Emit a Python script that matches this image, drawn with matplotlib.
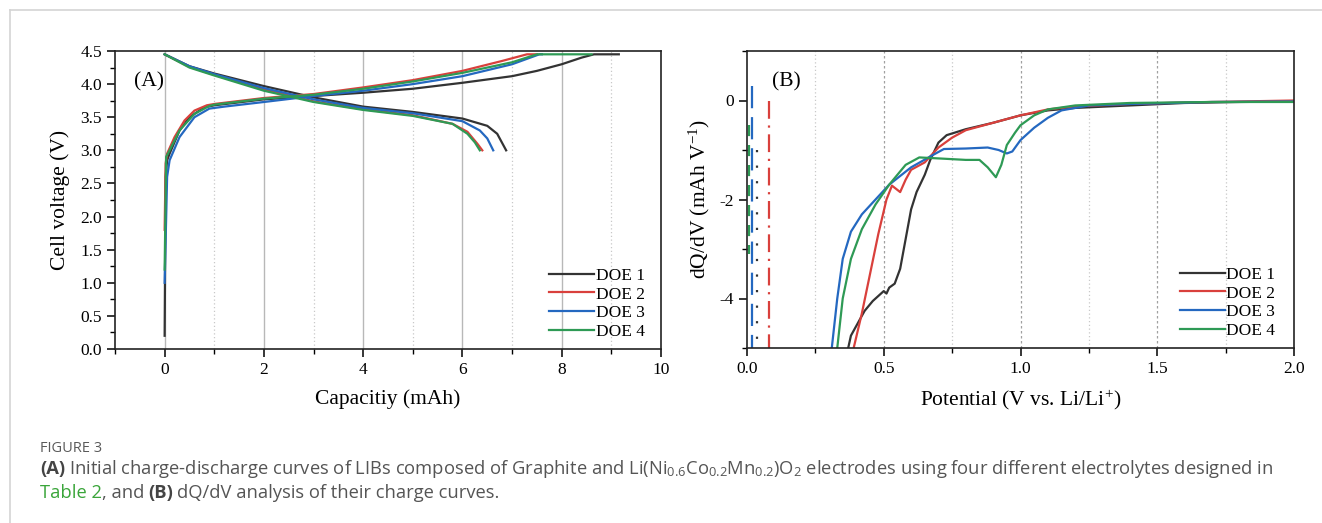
import numpy as np
import matplotlib
matplotlib.use("Agg")
import matplotlib.pyplot as plt
from matplotlib.ticker import MultipleLocator

plt.rcParams['font.family'] = ['Liberation Serif', 'DejaVu Serif']
plt.rcParams['mathtext.fontset'] = 'custom'
plt.rcParams['mathtext.rm'] = 'Liberation Serif'
plt.rcParams['mathtext.it'] = 'Liberation Serif:italic'
plt.rcParams['mathtext.sf'] = 'Open Sans'

labels = ["DOE 1", "DOE 2", "DOE 3", "DOE 4"]
colors = ["#333333", "#d9403c", "#2468c0", "#2e9a55"]

# (A) charge curves: capacity (mAh), voltage (V)
chg_x = [
    [0, 0.02, 0.05, 0.1, 0.3, 0.5, 0.8, 1.0, 2, 3, 4, 5, 6, 7, 7.5, 8, 8.4, 8.65, 9.15],
    [0, 0.02, 0.05, 0.2, 0.4, 0.6, 0.85, 1.0, 2, 3, 4, 5, 6, 6.8, 7.3, 7.5],
    [0, 0.05, 0.1, 0.3, 0.6, 0.9, 1.2, 2, 3, 4, 5, 6, 7, 7.55, 7.6],
    [0, 0.03, 0.1, 0.3, 0.6, 0.9, 1.0, 2, 3, 4, 5, 6, 7, 7.5, 8.6],
]
chg_y = [
    [0.2, 2.6, 2.85, 2.95, 3.3, 3.5, 3.65, 3.68, 3.77, 3.82, 3.87, 3.93, 4.02, 4.12, 4.2, 4.3, 4.4, 4.45, 4.45],
    [1.8, 2.8, 2.95, 3.2, 3.45, 3.6, 3.68, 3.7, 3.79, 3.85, 3.95, 4.06, 4.2, 4.35, 4.45, 4.45],
    [1.0, 2.6, 2.85, 3.2, 3.5, 3.63, 3.66, 3.73, 3.82, 3.9, 4.0, 4.12, 4.3, 4.45, 4.45],
    [1.2, 2.9, 3.0, 3.3, 3.55, 3.67, 3.69, 3.78, 3.84, 3.93, 4.04, 4.17, 4.33, 4.45, 4.45],
]
# (A) discharge curves
dis_x = [
    [0, 0.5, 1, 2, 3, 4, 5, 6, 6.5, 6.7, 6.88],
    [0, 0.5, 1, 2, 3, 4, 5, 5.8, 6.1, 6.3, 6.4],
    [0, 0.5, 1, 2, 3, 4, 5, 6, 6.35, 6.5, 6.62],
    [0, 0.5, 1, 2, 3, 4, 5, 5.8, 6.1, 6.25, 6.35],
]
dis_y = [
    [4.45, 4.27, 4.16, 3.97, 3.8, 3.66, 3.58, 3.48, 3.37, 3.25, 3.0],
    [4.45, 4.26, 4.14, 3.92, 3.74, 3.62, 3.53, 3.4, 3.28, 3.1, 3.0],
    [4.45, 4.27, 4.15, 3.94, 3.77, 3.64, 3.56, 3.44, 3.3, 3.18, 3.0],
    [4.45, 4.25, 4.13, 3.9, 3.73, 3.61, 3.52, 3.4, 3.25, 3.12, 3.0],
]

# (B) dQ/dV of charge curves
dq_x = [
    [0.37, 0.38, 0.40, 0.43, 0.46, 0.49, 0.50, 0.51, 0.52, 0.54, 0.56, 0.58, 0.60, 0.62, 0.65, 0.67, 0.70, 0.73, 0.80, 0.90, 1.0, 1.1, 1.2, 1.4, 1.6, 1.8, 2.0],
    [0.39, 0.42, 0.45, 0.48, 0.51, 0.53, 0.56, 0.58, 0.60, 0.65, 0.70, 0.75, 0.80, 0.90, 1.0, 1.1, 1.2, 1.4, 1.6, 1.8, 2.0],
    [0.31, 0.33, 0.35, 0.38, 0.42, 0.47, 0.52, 0.60, 0.68, 0.72, 0.80, 0.88, 0.92, 0.95, 0.97, 1.0, 1.05, 1.1, 1.15, 1.25, 1.4, 1.7, 2.0],
    [0.33, 0.35, 0.38, 0.42, 0.47, 0.52, 0.58, 0.63, 0.70, 0.80, 0.85, 0.88, 0.91, 0.93, 0.95, 0.98, 1.0, 1.05, 1.1, 1.2, 1.4, 1.7, 2.0],
]
dq_y = [
    [-5.0, -4.75, -4.55, -4.25, -4.05, -3.9, -3.85, -3.9, -3.78, -3.7, -3.4, -2.8, -2.2, -1.85, -1.5, -1.2, -0.85, -0.7, -0.58, -0.45, -0.3, -0.2, -0.15, -0.1, -0.05, -0.03, -0.02],
    [-5.0, -4.3, -3.5, -2.7, -2.0, -1.72, -1.85, -1.6, -1.4, -1.25, -0.95, -0.75, -0.6, -0.45, -0.3, -0.18, -0.12, -0.07, -0.04, -0.02, 0.0],
    [-5.0, -4.0, -3.2, -2.65, -2.3, -2.0, -1.7, -1.35, -1.1, -0.98, -0.97, -0.95, -1.0, -1.07, -1.03, -0.8, -0.55, -0.35, -0.2, -0.1, -0.07, -0.03, -0.02],
    [-5.0, -4.0, -3.2, -2.6, -2.1, -1.7, -1.3, -1.15, -1.17, -1.2, -1.2, -1.35, -1.55, -1.3, -0.9, -0.65, -0.5, -0.3, -0.18, -0.1, -0.05, -0.03, -0.03],
]
# broken low-potential traces near 0 V: x, top, bottom
spike_x = [0.035, 0.08, 0.02, 0.008]
spike_top = [-1.0, 0.0, 0.3, -0.5]
spike_bot = [-5.0, -5.0, -5.0, -3.1]
spike_style = [(0, (1, 6)), (0, (8, 3, 1, 3)), (0, (10, 4)), (0, (5, 4))]

fig = plt.figure(figsize=(13.22, 5.23), dpi=100)
W, H = 1322, 523

def px_axes(l, t, r, b):
    return fig.add_axes([l / W, 1 - b / H, (r - l) / W, (b - t) / H])

axA = px_axes(115, 51, 661, 349)
axB = px_axes(747, 51, 1294, 348)

for ax in (axA, axB):
    ax.tick_params(which='major', direction='out', length=6, width=1.1, labelsize=12.5, top=False, right=False)
    ax.tick_params(which='minor', direction='out', length=3.5, width=1.0, top=False, right=False)
    for s in ax.spines.values():
        s.set_linewidth(1.2)
        s.set_color('#222222')

# panel A
for v in [0, 2, 4, 6, 8]:
    axA.axvline(v, color='#b8b8b8', lw=1.0, zorder=0)
for v in [1, 3, 5, 7, 9]:
    axA.axvline(v, color='#c8c8c8', lw=0.9, ls=(0, (1, 2)), zorder=0)
for i in range(4):
    axA.plot(chg_x[i], chg_y[i], color=colors[i], lw=1.6, label=labels[i])
    axA.plot(dis_x[i], dis_y[i], color=colors[i], lw=1.6)
axA.set_xlim(-1, 10)
axA.set_ylim(0, 4.5)
axA.xaxis.set_major_locator(MultipleLocator(2))
axA.xaxis.set_minor_locator(MultipleLocator(1))
axA.yaxis.set_major_locator(MultipleLocator(0.5))
axA.yaxis.set_minor_locator(MultipleLocator(0.25))
axA.set_yticklabels([f"{v:.1f}" for v in axA.get_yticks()])
axA.set_xlabel("Capacitiy (mAh)", fontsize=15.5, labelpad=8)
axA.set_ylabel("Cell voltage (V)", fontsize=15.5, labelpad=7)
axA.text(0.035, 0.93, "(A)", transform=axA.transAxes, fontsize=15.5, va='top')
axA.legend(loc='lower right', bbox_to_anchor=(0.99, -0.005), frameon=False, fontsize=12.5,
           handlelength=2.6, handletextpad=0.1, labelspacing=0.15, borderaxespad=0.2)

# panel B
for v in [0.5, 1.0, 1.5]:
    axB.axvline(v, color='#a0a0a0', lw=0.9, ls=(0, (2, 2)), zorder=0)
for v in [0.25, 0.75, 1.25, 1.75]:
    axB.axvline(v, color='#c8c8c8', lw=0.9, ls=(0, (1, 2)), zorder=0)
for i in range(4):
    axB.plot(dq_x[i], dq_y[i], color=colors[i], lw=1.6, label=labels[i])
    axB.plot([spike_x[i], spike_x[i]], [spike_top[i], spike_bot[i]], color=colors[i],
             lw=1.6, ls=spike_style[i])
axB.set_xlim(0, 2.0)
axB.set_ylim(-5, 1)
axB.xaxis.set_major_locator(MultipleLocator(0.5))
axB.xaxis.set_minor_locator(MultipleLocator(0.25))
axB.yaxis.set_major_locator(MultipleLocator(2))
axB.yaxis.set_minor_locator(MultipleLocator(1))
axB.set_xticklabels([f"{v:.1f}" for v in axB.get_xticks()])
axB.set_yticklabels([f"{v:.0f}" for v in axB.get_yticks()])
axB.set_xlabel(r"Potential (V vs. Li/Li$^{+}$)", fontsize=15.5, labelpad=8)
axB.set_ylabel(r"dQ/dV (mAh V$^{-1}$)", fontsize=15.5, labelpad=5)
axB.text(0.045, 0.93, "(B)", transform=axB.transAxes, fontsize=15.5, va='top')
axB.legend(loc='lower right', bbox_to_anchor=(0.985, -0.005), frameon=False, fontsize=12.5,
           handlelength=2.6, handletextpad=0.1, labelspacing=0.15, borderaxespad=0.2)

# frame lines of the page
fig.add_artist(plt.Line2D([10 / W, 1], [1 - 10 / H, 1 - 10 / H], color='#d4d4d4', lw=1.2))
fig.add_artist(plt.Line2D([10 / W, 10 / W], [0, 1 - 10 / H], color='#d4d4d4', lw=1.2))

# caption
cap_font = ['Open Sans', 'DejaVu Sans']
fig.text(40 / W, 1 - 452 / H, "FIGURE 3", fontsize=10.5, color='#5a5a5a', family=cap_font,
         va='baseline')

renderer = fig.canvas.get_renderer()

def run_text(x_px, y_px, parts):
    x = x_px
    for s, weight, color, gap in parts:
        x += gap
        t = fig.text(x / W, 1 - y_px / H, s, fontsize=13.2, color=color, weight=weight,
                     family=cap_font, va='baseline')
        bb = t.get_window_extent(renderer)
        x = bb.x1

sp = 4
grey = '#555555'
run_text(40, 474, [
    ("(A)", 'bold', '#444444', 0),
    (r"Initial charge-discharge curves of LIBs composed of Graphite and "
     r"Li(Ni$_\mathsf{0.6}$Co$_\mathsf{0.2}$Mn$_\mathsf{0.2}$)O$_\mathsf{2}$ electrodes using four "
     r"different electrolytes designed in", 'normal', grey, sp),
])
run_text(40, 498, [
    ("Table 2", 'normal', '#3aa53a', 0),
    (", and", 'normal', grey, 0),
    ("(B)", 'bold', '#444444', sp),
    ("dQ/dV analysis of their charge curves.", 'normal', grey, sp),
])

fig.savefig("out.png", dpi=100)
